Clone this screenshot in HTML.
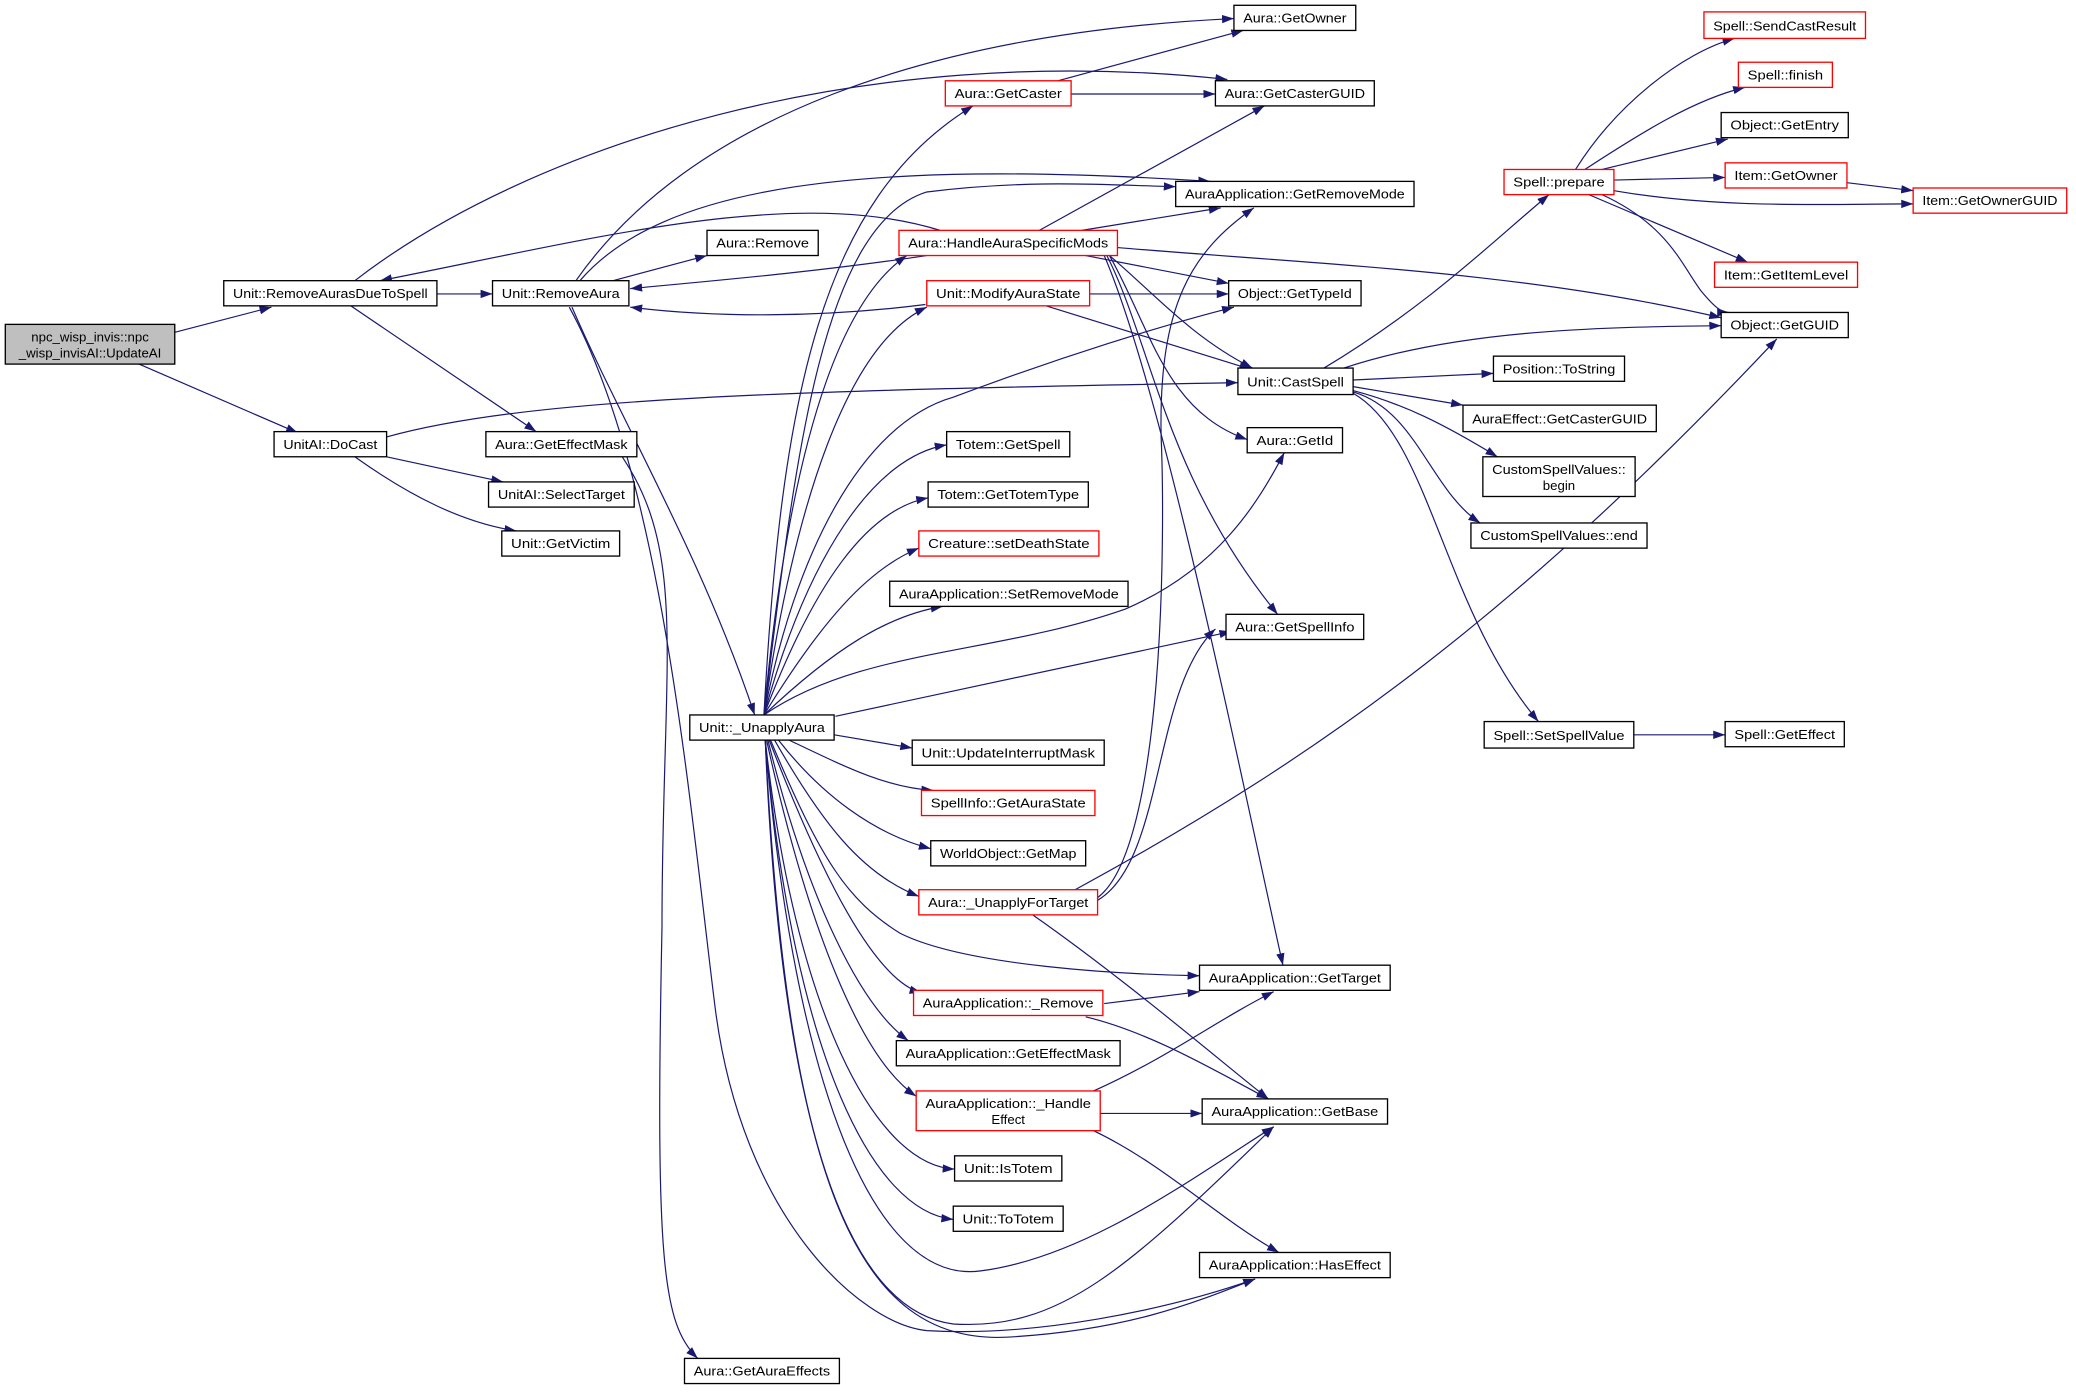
<!DOCTYPE html>
<html><head><meta charset="utf-8"><style>
html,body{margin:0;padding:0;background:#fff;}
svg{display:block;}
text{font-family:"Liberation Sans",sans-serif;font-size:10px;fill:#000;}
.e{fill:none;stroke:#191970;stroke-width:0.9;}
.n{fill:#fff;stroke:#000;stroke-width:1;}
.r{fill:#fff;stroke:#ff0000;stroke-width:1;}
.g{fill:#bfbfbf;stroke:#000;stroke-width:1;}
</style></head><body>
<svg width="2076" height="1396" viewBox="0 0 1568 1054.4" xmlns="http://www.w3.org/2000/svg">
<defs><marker id="a" viewBox="0 0 10 7" refX="10" refY="3.5" markerWidth="9" markerHeight="7" markerUnits="userSpaceOnUse" orient="auto"><path d="M0,0 L10,3.5 L0,7 z" fill="#191970"/></marker></defs>
<g class="e" marker-end="url(#a)">
<path d="M132,251 L205,232"/>
<path d="M105,275 L225,327"/>
<path d="M330,222 L372,222"/>
<path d="M268,212 C400,110 650,30 927,60"/>
<path d="M435,212 C520,90 700,25 932,14"/>
<path d="M265,231 L405,326"/>
<path d="M710,174 C600,140 450,180 287,212"/>
<path d="M463,212 L534,193"/>
<path d="M438,212 C500,140 650,120 914,137"/>
<path d="M700,193 C620,205 540,212 476,218"/>
<path d="M699,230 C620,240 540,240 476,232"/>
<path d="M432,232 C470,320 530,420 570,540"/>
<path d="M430,232 C500,360 520,600 540,760 C560,920 650,1000 700,1005 C780,1010 880,990 948,966"/>
<path d="M470,345 C520,420 500,500 500,700 C495,950 500,1000 527,1026"/>
<path d="M577,540 C590,300 620,150 735,80"/>
<path d="M577,540 C595,350 630,230 685,193"/>
<path d="M577,540 C600,380 640,260 700,232"/>
<path d="M577,540 C600,350 620,170 700,145 C780,135 840,140 888,141"/>
<path d="M577,540 C600,420 650,320 720,300 C800,270 880,245 932,232"/>
<path d="M577,540 C610,420 660,345 715,336"/>
<path d="M577,540 C615,440 655,385 701,376"/>
<path d="M577,540 C620,470 655,430 694,414"/>
<path d="M577,540 C630,490 670,465 712,458"/>
<path d="M577,540 C650,490 750,495 850,460 C920,430 950,380 970,342"/>
<path d="M631,541 L930,477"/>
<path d="M630,555 L689,565"/>
<path d="M596,559 C640,580 670,595 705,597"/>
<path d="M588,559 C620,600 660,630 703,641"/>
<path d="M585,559 C620,620 650,660 694,677"/>
<path d="M582,559 C620,650 640,680 680,705 C730,730 850,736 906,737"/>
<path d="M581,559 C620,660 660,740 696,750"/>
<path d="M580,559 C610,680 650,760 686,786"/>
<path d="M579,559 C610,700 650,800 692,828"/>
<path d="M578,559 C600,760 660,880 721,883"/>
<path d="M578,559 C600,800 660,915 720,921"/>
<path d="M578,559 C600,820 660,970 740,960 C820,950 900,890 962,851"/>
<path d="M578,559 C590,850 640,990 720,1000 C800,1005 850,960 962,851"/>
<path d="M578,559 C595,900 650,1015 760,1010 C850,1005 900,985 948,966"/>
<path d="M785,174 L955,80"/>
<path d="M817,174 L922,157"/>
<path d="M844,187 C1000,200 1150,205 1300,240"/>
<path d="M820,193 L928,214"/>
<path d="M838,193 C870,220 900,255 946,278"/>
<path d="M838,193 C870,250 880,310 942,332"/>
<path d="M836,193 C870,260 880,360 965,464"/>
<path d="M834,193 C880,300 940,600 969,729"/>
<path d="M823,222 L928,222"/>
<path d="M790,231 L945,279"/>
<path d="M292,330 C400,300 600,295 935,289"/>
<path d="M292,345 L380,364"/>
<path d="M268,345 C310,375 350,395 390,401"/>
<path d="M809,71 L918,71"/>
<path d="M799,61 L939,23"/>
<path d="M1000,278 C1080,230 1130,180 1170,147"/>
<path d="M1015,278 C1100,250 1200,247 1300,246"/>
<path d="M1022,287 L1128,282"/>
<path d="M1022,292 L1105,306"/>
<path d="M1022,295 C1060,305 1090,320 1131,345"/>
<path d="M1022,296 C1070,310 1080,370 1118,395"/>
<path d="M1022,297 C1080,330 1090,460 1162,545"/>
<path d="M1190,128 C1220,80 1270,40 1310,29"/>
<path d="M1197,128 C1240,100 1280,75 1318,66"/>
<path d="M1210,128 L1305,105"/>
<path d="M1219,136 L1303,134"/>
<path d="M1219,144 C1300,158 1380,154 1445,154"/>
<path d="M1200,147 L1320,198"/>
<path d="M1210,147 C1260,170 1270,200 1285,220 C1295,232 1300,236 1306,236"/>
<path d="M1395,138 L1445,144"/>
<path d="M812,672 C1000,570 1150,460 1342,256"/>
<path d="M780,691 C850,740 920,800 958,830"/>
<path d="M829,680 C880,650 870,520 918,475"/>
<path d="M829,678 C880,640 880,400 877,330 C875,230 900,190 947,157"/>
<path d="M834,758 L906,749"/>
<path d="M820,768 C870,780 920,810 958,830"/>
<path d="M831,841 L908,841"/>
<path d="M826,824 C880,800 920,770 962,749"/>
<path d="M826,854 C880,880 920,920 966,946"/>
<path d="M1234,555 L1303,555"/>
</g>
<g text-anchor="middle">
<rect class="g" x="4" y="245" width="128" height="30"/><text x="68" y="258">npc_wisp_invis::npc</text><text x="68" y="270">_wisp_invisAI::UpdateAI</text>
<rect class="n" x="169" y="212" width="161" height="19"/><text x="249.5" y="225" textLength="147" lengthAdjust="spacingAndGlyphs">Unit::RemoveAurasDueToSpell</text>
<rect class="n" x="207" y="326" width="85" height="19"/><text x="249.5" y="339" textLength="71" lengthAdjust="spacingAndGlyphs">UnitAI::DoCast</text>
<rect class="n" x="372" y="212" width="103" height="19"/><text x="423.5" y="225" textLength="89" lengthAdjust="spacingAndGlyphs">Unit::RemoveAura</text>
<rect class="n" x="367" y="326" width="114" height="19"/><text x="424" y="339" textLength="100" lengthAdjust="spacingAndGlyphs">Aura::GetEffectMask</text>
<rect class="n" x="369" y="364" width="110" height="19"/><text x="424" y="377" textLength="96" lengthAdjust="spacingAndGlyphs">UnitAI::SelectTarget</text>
<rect class="n" x="379" y="401" width="89" height="19"/><text x="423.5" y="414" textLength="75" lengthAdjust="spacingAndGlyphs">Unit::GetVictim</text>
<rect class="n" x="534" y="174" width="84" height="19"/><text x="576" y="187" textLength="70" lengthAdjust="spacingAndGlyphs">Aura::Remove</text>
<rect class="n" x="521" y="540" width="109" height="19"/><text x="575.5" y="553" textLength="95" lengthAdjust="spacingAndGlyphs">Unit::_UnapplyAura</text>
<rect class="n" x="517" y="1026" width="117" height="19"/><text x="575.5" y="1039" textLength="103" lengthAdjust="spacingAndGlyphs">Aura::GetAuraEffects</text>
<rect class="r" x="714" y="61" width="95" height="19"/><text x="761.5" y="74" textLength="81" lengthAdjust="spacingAndGlyphs">Aura::GetCaster</text>
<rect class="r" x="679" y="174" width="165" height="19"/><text x="761.5" y="187" textLength="151" lengthAdjust="spacingAndGlyphs">Aura::HandleAuraSpecificMods</text>
<rect class="r" x="700" y="212" width="123" height="19"/><text x="761.5" y="225" textLength="109" lengthAdjust="spacingAndGlyphs">Unit::ModifyAuraState</text>
<rect class="n" x="715" y="326" width="93" height="19"/><text x="761.5" y="339" textLength="79" lengthAdjust="spacingAndGlyphs">Totem::GetSpell</text>
<rect class="n" x="701" y="364" width="121" height="19"/><text x="761.5" y="377" textLength="107" lengthAdjust="spacingAndGlyphs">Totem::GetTotemType</text>
<rect class="r" x="694" y="401" width="136" height="19"/><text x="762" y="414" textLength="122" lengthAdjust="spacingAndGlyphs">Creature::setDeathState</text>
<rect class="n" x="672" y="439" width="180" height="19"/><text x="762" y="452" textLength="166" lengthAdjust="spacingAndGlyphs">AuraApplication::SetRemoveMode</text>
<rect class="n" x="689" y="559" width="145" height="19"/><text x="761.5" y="572" textLength="131" lengthAdjust="spacingAndGlyphs">Unit::UpdateInterruptMask</text>
<rect class="r" x="696" y="597" width="131" height="19"/><text x="761.5" y="610" textLength="117" lengthAdjust="spacingAndGlyphs">SpellInfo::GetAuraState</text>
<rect class="n" x="703" y="635" width="117" height="19"/><text x="761.5" y="648" textLength="103" lengthAdjust="spacingAndGlyphs">WorldObject::GetMap</text>
<rect class="r" x="694" y="672" width="135" height="19"/><text x="761.5" y="685" textLength="121" lengthAdjust="spacingAndGlyphs">Aura::_UnapplyForTarget</text>
<rect class="r" x="690" y="748" width="143" height="19"/><text x="761.5" y="761" textLength="129" lengthAdjust="spacingAndGlyphs">AuraApplication::_Remove</text>
<rect class="n" x="677" y="786" width="169" height="19"/><text x="761.5" y="799" textLength="155" lengthAdjust="spacingAndGlyphs">AuraApplication::GetEffectMask</text>
<rect class="r" x="692" y="824" width="139" height="30"/><text x="761.5" y="837" textLength="125" lengthAdjust="spacingAndGlyphs">AuraApplication::_Handle</text><text x="761.5" y="849">Effect</text>
<rect class="n" x="721" y="873" width="81" height="19"/><text x="761.5" y="886" textLength="67" lengthAdjust="spacingAndGlyphs">Unit::IsTotem</text>
<rect class="n" x="720" y="911" width="83" height="19"/><text x="761.5" y="924" textLength="69" lengthAdjust="spacingAndGlyphs">Unit::ToTotem</text>
<rect class="n" x="932" y="4" width="92" height="19"/><text x="978" y="17" textLength="78" lengthAdjust="spacingAndGlyphs">Aura::GetOwner</text>
<rect class="n" x="918" y="61" width="120" height="19"/><text x="978" y="74" textLength="106" lengthAdjust="spacingAndGlyphs">Aura::GetCasterGUID</text>
<rect class="n" x="888" y="137" width="180" height="19"/><text x="978" y="150" textLength="166" lengthAdjust="spacingAndGlyphs">AuraApplication::GetRemoveMode</text>
<rect class="n" x="928" y="212" width="100" height="19"/><text x="978" y="225" textLength="86" lengthAdjust="spacingAndGlyphs">Object::GetTypeId</text>
<rect class="n" x="935" y="278" width="87" height="20"/><text x="978.5" y="292" textLength="73" lengthAdjust="spacingAndGlyphs">Unit::CastSpell</text>
<rect class="n" x="942" y="323" width="72" height="19"/><text x="978" y="336" textLength="58" lengthAdjust="spacingAndGlyphs">Aura::GetId</text>
<rect class="n" x="926" y="464" width="104" height="19"/><text x="978" y="477" textLength="90" lengthAdjust="spacingAndGlyphs">Aura::GetSpellInfo</text>
<rect class="n" x="906" y="729" width="144" height="19"/><text x="978" y="742" textLength="130" lengthAdjust="spacingAndGlyphs">AuraApplication::GetTarget</text>
<rect class="n" x="908" y="830" width="140" height="19"/><text x="978" y="843" textLength="126" lengthAdjust="spacingAndGlyphs">AuraApplication::GetBase</text>
<rect class="n" x="906" y="946" width="144" height="19"/><text x="978" y="959" textLength="130" lengthAdjust="spacingAndGlyphs">AuraApplication::HasEffect</text>
<rect class="r" x="1136" y="128" width="83" height="19"/><text x="1177.5" y="141" textLength="69" lengthAdjust="spacingAndGlyphs">Spell::prepare</text>
<rect class="n" x="1128" y="269" width="99" height="19"/><text x="1177.5" y="282" textLength="85" lengthAdjust="spacingAndGlyphs">Position::ToString</text>
<rect class="n" x="1105" y="306" width="146" height="20"/><text x="1178" y="320" textLength="132" lengthAdjust="spacingAndGlyphs">AuraEffect::GetCasterGUID</text>
<rect class="n" x="1120" y="345" width="115" height="30"/><text x="1177.5" y="358" textLength="101" lengthAdjust="spacingAndGlyphs">CustomSpellValues::</text><text x="1177.5" y="370">begin</text>
<rect class="n" x="1111" y="395" width="133" height="19"/><text x="1177.5" y="408" textLength="119" lengthAdjust="spacingAndGlyphs">CustomSpellValues::end</text>
<rect class="n" x="1121" y="545" width="113" height="20"/><text x="1177.5" y="559" textLength="99" lengthAdjust="spacingAndGlyphs">Spell::SetSpellValue</text>
<rect class="r" x="1287" y="9" width="122" height="20"/><text x="1348" y="23" textLength="108" lengthAdjust="spacingAndGlyphs">Spell::SendCastResult</text>
<rect class="r" x="1313" y="47" width="71" height="19"/><text x="1348.5" y="60" textLength="57" lengthAdjust="spacingAndGlyphs">Spell::finish</text>
<rect class="n" x="1300" y="85" width="96" height="19"/><text x="1348" y="98" textLength="82" lengthAdjust="spacingAndGlyphs">Object::GetEntry</text>
<rect class="r" x="1303" y="123" width="92" height="19"/><text x="1349" y="136" textLength="78" lengthAdjust="spacingAndGlyphs">Item::GetOwner</text>
<rect class="r" x="1445" y="142" width="116" height="19"/><text x="1503" y="155" textLength="102" lengthAdjust="spacingAndGlyphs">Item::GetOwnerGUID</text>
<rect class="r" x="1295" y="198" width="108" height="19"/><text x="1349" y="211" textLength="94" lengthAdjust="spacingAndGlyphs">Item::GetItemLevel</text>
<rect class="n" x="1300" y="236" width="96" height="19"/><text x="1348" y="249" textLength="82" lengthAdjust="spacingAndGlyphs">Object::GetGUID</text>
<rect class="n" x="1303" y="545" width="90" height="19"/><text x="1348" y="558" textLength="76" lengthAdjust="spacingAndGlyphs">Spell::GetEffect</text>
</g>
</svg>
</body></html>
